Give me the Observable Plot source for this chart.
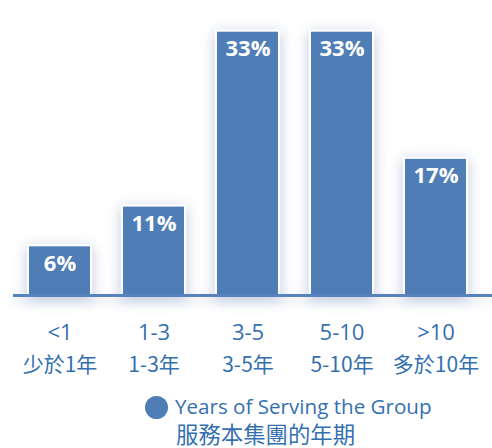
<!DOCTYPE html>
<html>
<head>
<meta charset="utf-8">
<script src="https://cdn.jsdelivr.net/npm/d3@7"></script>
<script src="https://cdn.jsdelivr.net/npm/@observablehq/plot@0.6"></script>
<style>
  html, body { margin: 0; padding: 0; background: #fff; }
  #chart svg { display: block; overflow: visible; }
  g[aria-label="bar"] { filter: drop-shadow(0 3px 7px rgba(70, 95, 160, 0.35)); }
  g[aria-label="rule"] { filter: drop-shadow(0 4px 6px rgba(70, 95, 160, 0.25)); }
  #legend { position: relative; width: 492px; height: 63px; color: #3470b0; }
  #legend .dot { position: absolute; left: 145px; top: 11px; width: 23px; height: 23px; border-radius: 50%; background: #4f7db6; }
  #legend .en { position: absolute; left: 175px; top: 7px; font-family: "Open Sans", sans-serif; font-size: 20.6px; line-height: 28px; white-space: nowrap; }
  #legend .zh { position: absolute; left: 176px; top: 35px; font-family: "Noto Sans CJK TC", sans-serif; font-size: 22.4px; line-height: 26px; white-space: nowrap; }
</style>
</head>
<body>
<div id="chart"></div>
<div id="legend"><div class="dot"></div><div class="en"></div><div class="zh"></div></div>
<script>
const categories = ["<1", "1-3", "3-5", "5-10", ">10"];
const categoriesZh = ["少於1年", "1-3年", "3-5年", "5-10年", "多於10年"];
const values = [6, 11, 33, 33, 17];
const legendEn = "Years of Serving the Group";
const legendZh = "服務本集團的年期";

const data = categories.map((c, i) => ({cat: c, zh: categoriesZh[i], value: values[i]}));
const zhOf = new Map(data.map(d => [d.cat, d.zh]));

const chart = Plot.plot({
  width: 492,
  height: 385,
  marginLeft: 13,
  marginRight: 9,
  marginTop: 31.7,
  marginBottom: 91,
  style: {fontFamily: "'Open Sans', sans-serif", background: "transparent"},
  x: {domain: categories, paddingInner: 0.35, paddingOuter: 0.175, axis: null, label: null},
  y: {domain: [0, 33], axis: null},
  marks: [
    Plot.barY(data, {x: "cat", y: "value", fill: "#4f7db6", stroke: "white", strokeWidth: 2.2, inset: -1.1}),
    Plot.ruleY([0], {stroke: "#5683be", strokeWidth: 3, insetRight: -9, dy: 1}),
    Plot.text(data, {x: "cat", y: "value", text: d => d.value + "%", dy: 17, fill: "white",
      fontSize: 22, fontWeight: 700, fontFamily: "'Open Sans', sans-serif"}),
    Plot.axisX({tickSize: 0, tickPadding: 30, fontSize: 22, color: "#3470b0", label: null,
      fontFamily: "'Open Sans', sans-serif"}),
    Plot.axisX({tickSize: 0, tickPadding: 63, fontSize: 21, color: "#3470b0", label: null,
      tickFormat: d => zhOf.get(d), fontFamily: "'Noto Sans CJK TC', sans-serif"})
  ]
});
document.getElementById("chart").appendChild(chart);
document.querySelector("#legend .en").textContent = legendEn;
document.querySelector("#legend .zh").textContent = legendZh;
</script>
</body>
</html>
